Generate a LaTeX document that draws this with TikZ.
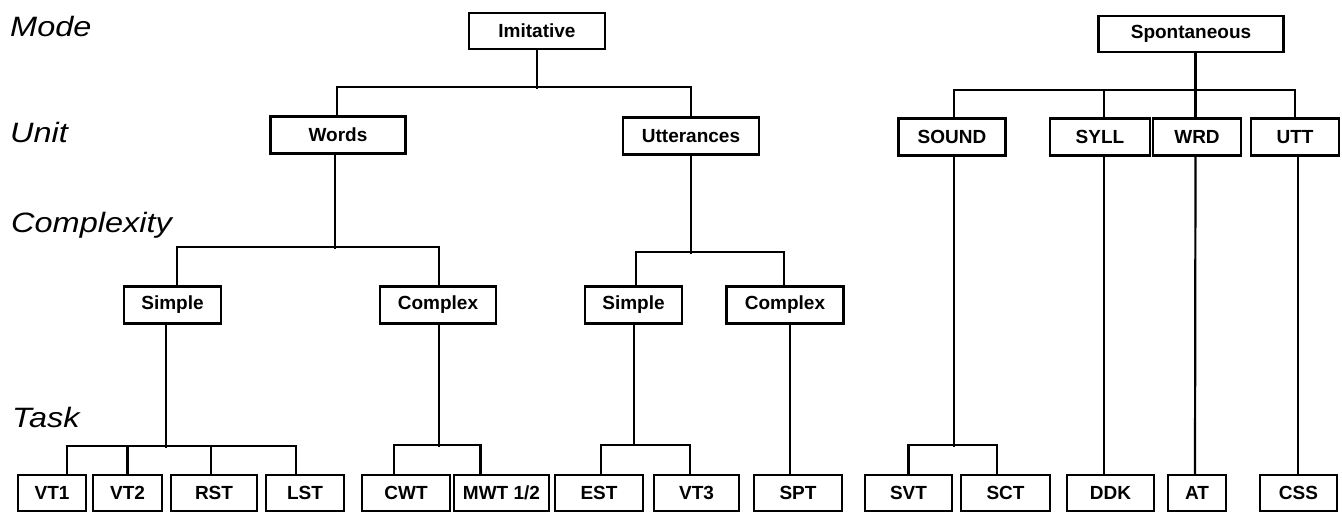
\documentclass[tikz,border=0pt]{standalone}
\usepackage{fontspec}
\newfontfamily\boxfont{Liberation Sans}
\newfontfamily\lblfont[FakeStretch=1.16]{Liberation Sans}
\begin{document}
\begin{tikzpicture}[x=1pt,y=-1pt,
  box/.style={draw,line width=2.2pt,inner sep=0pt,minimum height=36pt,font=\boxfont\bfseries\fontsize{19}{21}\selectfont},
  conn/.style={line width=2.2pt},
  lvl/.style={anchor=base west,inner sep=0pt,font=\lblfont\itshape\fontsize{28}{30}\selectfont}]
\useasboundingbox (0,0) rectangle (1342,513);
% level labels
\node[lvl] (lmode) at (10,37) {Mode};
\node[lvl] (lunit) at (10,143) {Unit};
\node[lvl] (lcomp) at (11,233) {Complexity};
\node[lvl] (ltask) at (12,427) {Task};
% top
\node[box,minimum width=136pt] (imit) at (537,31) {Imitative};
\node[box,minimum width=185pt] (spon) at (1191,34) {Spontaneous};
% unit
\node[box,minimum width=135pt,minimum height=37pt] (words) at (338,135) {Words};
\node[box,minimum width=136pt,minimum height=37pt] (utter) at (691,136) {Utterances};
\node[box,minimum width=107pt,minimum height=37pt] (sound) at (952,137) {SOUND};
\node[box,minimum width=100pt,minimum height=37pt] (syll) at (1100,137) {SYLL};
\node[box,minimum width=88pt,minimum height=37pt] (wrd) at (1197,137) {WRD};
\node[box,minimum width=88pt,minimum height=37pt] (utt) at (1295,137) {UTT};
% complexity
\node[box,minimum width=97pt,minimum height=37pt] (simp1) at (172.5,305) {Simple};
\node[box,minimum width=116pt,minimum height=37pt] (comp1) at (438,305) {Complex};
\node[box,minimum width=97pt,minimum height=37pt] (simp2) at (633.5,305) {Simple};
\node[box,minimum width=117pt,minimum height=37pt] (comp2) at (785,305) {Complex};
% tasks
\node[box,minimum width=68pt] (vt1) at (52,493) {VT1};
\node[box,minimum width=69pt] (vt2) at (127.5,493) {VT2};
\node[box,minimum width=86pt] (rst) at (214,493) {RST};
\node[box,minimum width=78pt] (lst) at (305,493) {LST};
\node[box,minimum width=88pt] (cwt) at (406,493) {CWT};
\node[box,minimum width=95pt] (mwt) at (501.5,493) {MWT 1/2};
\node[box,minimum width=88pt] (est) at (599,493) {EST};
\node[box,minimum width=85pt] (vt3) at (696.5,493) {VT3};
\node[box,minimum width=88pt] (spt) at (798,493) {SPT};
\node[box,minimum width=87pt] (svt) at (908.5,493) {SVT};
\node[box,minimum width=89pt] (sct) at (1005.5,493) {SCT};
\node[box,minimum width=87pt] (ddk) at (1110.5,493) {DDK};
\node[box,minimum width=58pt] (at) at (1197,493) {AT};
\node[box,minimum width=77pt] (css) at (1298.5,493) {CSS};
% connectors: Imitative
\draw[conn] (imit.south) -- ++(0,39);
\draw[conn] ([xshift=-1pt]words.north) -- ++(0,-28.5) -| (utter.north);
% Words
\draw[conn] ([xshift=-3pt]words.south) -- ++(0,94.5);
\draw[conn] ([xshift=4.5pt]simp1.north) -- ++(0,-38.5) -| ([xshift=1pt]comp1.north);
% Utterances
\draw[conn] (utter.south) -- ++(0,98.5);
\draw[conn] ([xshift=2.5pt]simp2.north) -- ++(0,-33.5) -| ([xshift=-1pt]comp2.north);
% Simple (words)
\draw[conn] ([xshift=-6.5pt]simp1.south) -- ++(0,123.5);
\draw[conn] ([xshift=15pt]vt1.north) -- ++(0,-28) -| ([xshift=-9pt]lst.north);
\draw[conn] (vt2.north) -- ++(0,-28);
\draw[conn] ([xshift=-3pt]rst.north) -- ++(0,-28);
% Complex (words)
\draw[conn] ([xshift=1pt]comp1.south) -- ++(0,122.5);
\draw[conn] ([xshift=-12pt]cwt.north) -- ++(0,-29) -| ([xshift=-21pt]mwt.north);
% Simple (utterances)
\draw[conn] ([xshift=0.5pt]simp2.south) -- ++(0,121.5);
\draw[conn] ([xshift=2pt]est.north) -- ++(0,-29) -| ([xshift=-6.5pt]vt3.north);
% Complex (utterances)
\draw[conn] ([xshift=5pt]comp2.south) -- ([xshift=-8pt]spt.north);
% Spontaneous
\draw[conn] ([xshift=4.5pt]spon.south) -- ++(0,39);
\draw[conn] ([xshift=2pt]sound.north) -- ++(0,-27.5) -| (utt.north);
\draw[conn] ([xshift=4pt]syll.north) -- ++(0,-27.5);
\draw[conn] ([xshift=-1.5pt]wrd.north) -- ++(0,-27.5);
% SOUND
\draw[conn] ([xshift=2pt]sound.south) -- ++(0,290.5);
\draw[conn] (svt.north) -- ++(0,-29) -| ([xshift=-8.5pt]sct.north);
% SYLL, WRD, UTT
\draw[conn] ([xshift=4pt]syll.south) -- ([xshift=-6.5pt]ddk.north);
\draw[conn] ([xshift=-1.5pt]wrd.south) -- ([xshift=-2pt]at.north);
\draw[conn] ([xshift=3pt]utt.south) -- ([xshift=-0.5pt]css.north);
\end{tikzpicture}
\end{document}
